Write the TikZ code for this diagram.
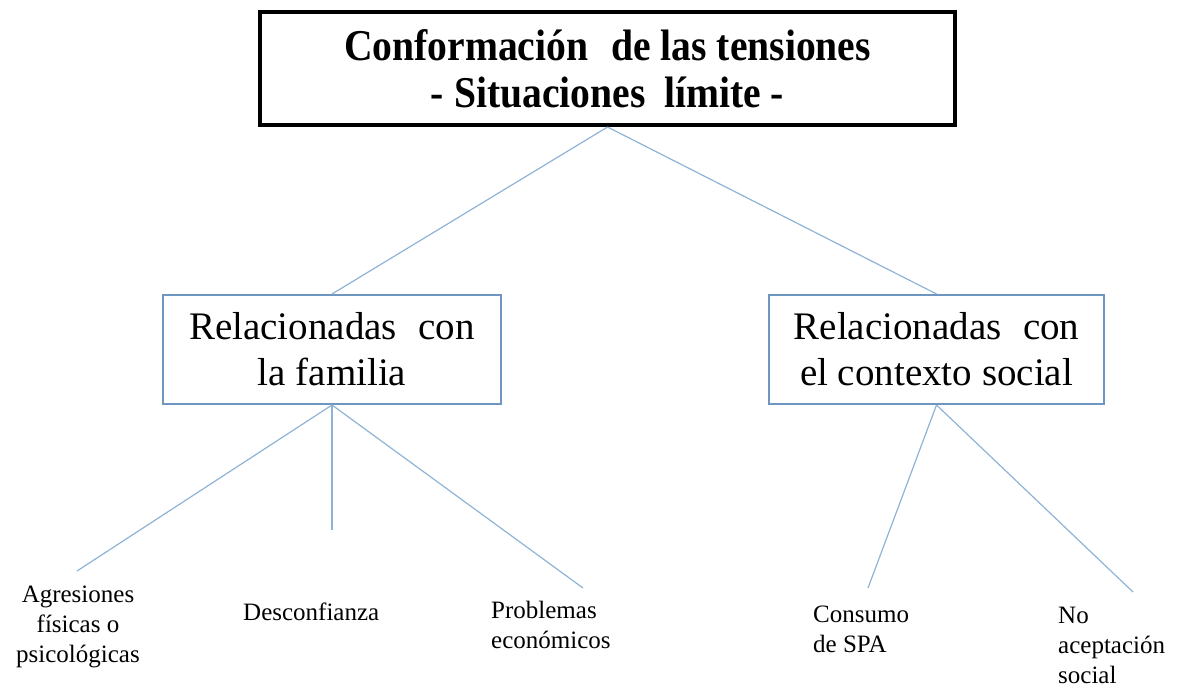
\documentclass[tikz,border=0pt]{standalone}
\usepackage{fontspec}
\setmainfont{Liberation Serif}
\newfontfamily\titlefont[FakeStretch=0.9]{Liberation Serif}
\definecolor{boxblue}{HTML}{6E96C0}
\definecolor{lineblue}{HTML}{8FB3D6}
\begin{document}
\begin{tikzpicture}[x=1pt,y=-1pt,
  topbox/.style={draw=black,line width=4pt,inner sep=0pt,minimum width=695pt,minimum height=113pt,align=center,font=\titlefont\fontsize{44}{47}\selectfont\bfseries},
  midbox/.style={draw=boxblue,line width=2pt,inner sep=0pt,minimum height=109pt,align=center,font=\fontsize{39}{46}\selectfont},
  leaf/.style={inner sep=0pt,font=\fontsize{25}{30}\selectfont},
  conn/.style={draw=lineblue,line width=1.2pt}]
\useasboundingbox (0,0) rectangle (1183,692);
\node[topbox] (top) at (607.5,68.5) {Conformación\hspace{0.3em} de las tensiones\\- Situaciones\hspace{0.2em} límite -};
\node[midbox,minimum width=338pt] (fam) at (332,349.5) {Relacionadas\hspace{0.3em} con\\la familia};
\node[midbox,minimum width=335pt] (soc) at (936.5,349.5) {Relacionadas\hspace{0.3em} con\\el contexto social};
\coordinate (e1) at (77,571);
\coordinate (e2) at (332,530);
\coordinate (e3) at (583,588);
\coordinate (e4) at (868,588);
\coordinate (e5) at (1133,592);
\draw[conn] (top.south) -- (fam.north);
\draw[conn] (top.south) -- (soc.north);
\draw[conn] (fam.south) -- (e1);
\draw[conn] (fam.south) -- (e2);
\draw[conn] (fam.south) -- (e3);
\draw[conn] (soc.south) -- (e4);
\draw[conn] (soc.south) -- (e5);
\node[leaf,align=center,anchor=north] (l1) at (78,586) {Agresiones\\físicas o\\psicológicas};
\node[leaf,anchor=base west] (l2) at (243,620) {Desconfianza};
\node[leaf,align=left,anchor=north west] (l3) at (491,601) {Problemas\\económicos};
\node[leaf,align=left,anchor=north west] (l4) at (813,606) {Consumo\\de SPA};
\node[leaf,align=left,anchor=north west] (l5) at (1058,606.5) {No\\aceptación\\social};
\end{tikzpicture}
\end{document}
